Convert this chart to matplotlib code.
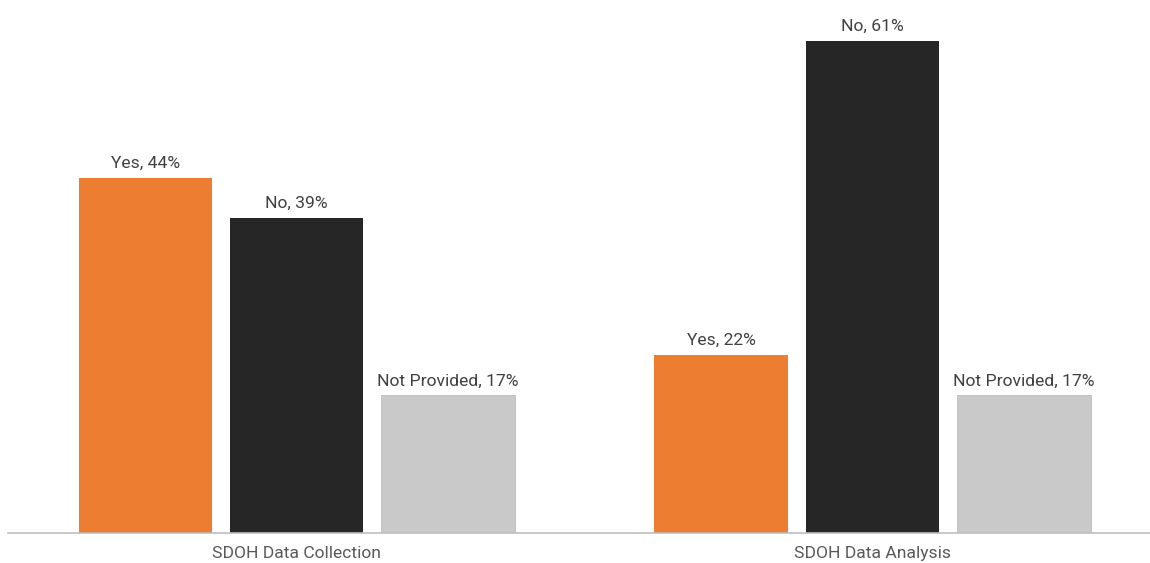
import numpy as np
import matplotlib.pyplot as plt

plt.rcParams['font.family'] = ['Roboto', 'DejaVu Sans']

groups = ['SDOH Data Collection', 'SDOH Data Analysis']
series = ['Yes', 'No', 'Not Provided']
values = {
    'Yes': [44, 22],
    'No': [39, 61],
    'Not Provided': [17, 17],
}
colors = {'Yes': '#ED7D31', 'No': '#262626', 'Not Provided': '#C9C9C9'}

fig = plt.figure(figsize=(11.5, 5.63), dpi=100)
ax = fig.add_axes([8 / 1150, 30.5 / 563, 1142 / 1150, 524 / 563])

x = np.arange(len(groups))
width = 0.2326
step = 0.2622
for i, name in enumerate(series):
    pos = x + (i - 1) * step
    bars = ax.bar(pos, values[name], width, color=colors[name],
                  edgecolor='#BDBDBD' if name == 'Not Provided' else 'none',
                  linewidth=0.6)
    for b, v in zip(bars, values[name]):
        ax.annotate(f'{name}, {v}%', (b.get_x() + b.get_width() / 2, v),
                    xytext=(0, 5), textcoords='offset points',
                    ha='center', va='bottom', fontsize=12.6, color='#404040')

ax.set_xlim(-0.5009, 1.4818)
ax.set_ylim(0, 65)
ax.set_xticks(x)
ax.set_xticklabels(groups, fontsize=12.6, color='#595959')
ax.tick_params(axis='x', length=0, pad=10)
ax.set_yticks([])
for side in ['top', 'right', 'left']:
    ax.spines[side].set_visible(False)
ax.spines['bottom'].set_color('#BFBFBF')
ax.spines['bottom'].set_linewidth(1.2)

fig.savefig('out.png', dpi=100)
